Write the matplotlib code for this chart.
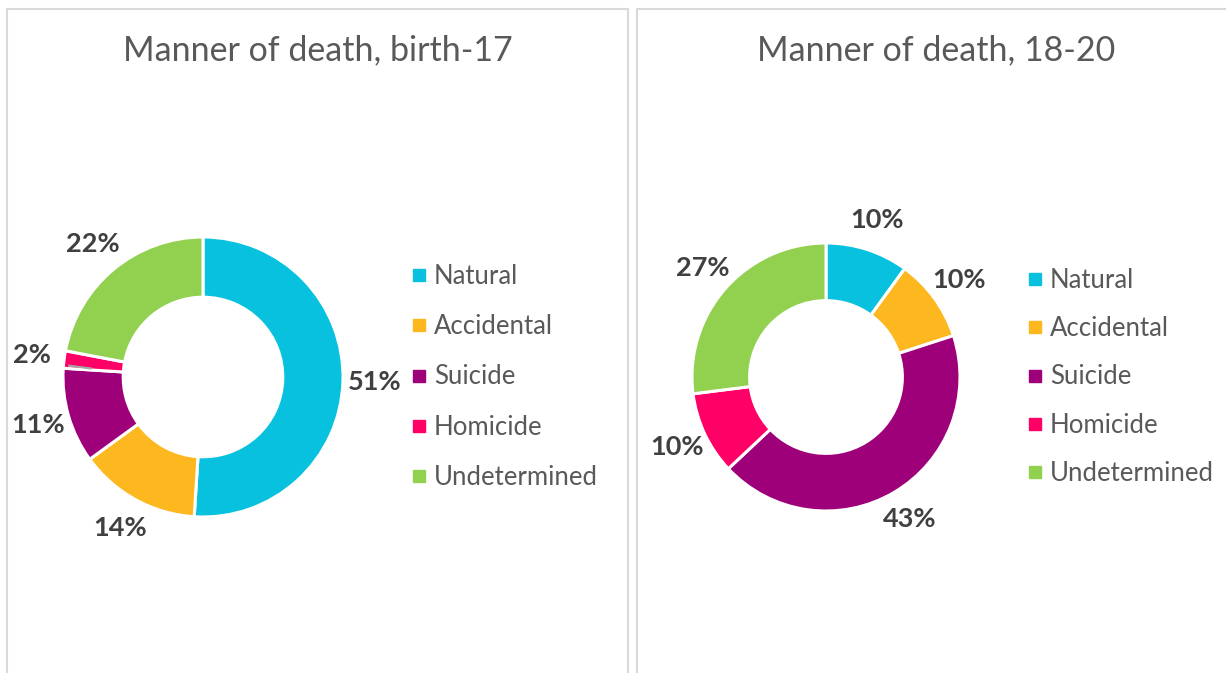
import matplotlib
matplotlib.use("Agg")
import matplotlib.pyplot as plt
from matplotlib.patches import Rectangle
from matplotlib.lines import Line2D
import numpy as np

plt.rcParams['font.family'] = ['Lato', 'DejaVu Sans']

categories = ["Natural", "Accidental", "Suicide", "Homicide", "Undetermined"]
colors = ["#07C1DE", "#FDB71F", "#9E0079", "#FF0066", "#92D050"]
values_left = [51, 14, 11, 2, 22]
values_right = [10, 10, 43, 10, 27]
title_left = "Manner of death, birth-17"
title_right = "Manner of death, 18-20"

W, H = 1226, 673
fig = plt.figure(figsize=(W / 100, H / 100), dpi=100)
fig.patch.set_facecolor("white")

def fx(x):
    return x / W

def fy(y):
    return 1 - y / H

# panel borders
for x0, x1 in [(7, 628), (637, 1240)]:
    fig.add_artist(Rectangle((fx(x0), fy(690)), fx(x1 - x0), (690 - 9) / H,
                             transform=fig.transFigure, fill=False,
                             edgecolor="#D9D9D9", linewidth=1.5))

def donut(cx, cy, R, values, title, tx, leg_x, leg_spacing, leader=False):
    half = 220
    ax = fig.add_axes([fx(cx - half), fy(cy + half), 2 * half / W, 2 * half / H])
    lim = half / R
    wedges, texts, autotexts = ax.pie(
        values, colors=colors, startangle=90, counterclock=False, radius=1,
        wedgeprops=dict(width=0.43, edgecolor="white", linewidth=2.2),
        autopct=lambda p: f"{p:.0f}%", pctdistance=1.23,
        textprops=dict(fontsize=19.5, fontweight="bold", color="#404040"))
    ax.set_xlim(-lim, lim)
    ax.set_ylim(-lim, lim)
    ax.set_aspect("equal")
    ax.axis("off")
    if leader:
        w = wedges[3]
        ang = np.deg2rad((w.theta1 + w.theta2) / 2)
        ax.plot([0.8 * np.cos(ang), 0.97 * np.cos(ang)],
                [0.8 * np.sin(ang) - 0.04, 0.97 * np.sin(ang) - 0.04],
                color="#A6A6A6", lw=1.5, solid_capstyle="butt")
    fig.text(fx(tx), fy(50), title, ha="center", va="center",
             fontsize=24.5, color="#595959")
    handles = [Line2D([], [], marker="s", linestyle="none", markersize=8,
                      markerfacecolor=c, markeredgecolor=c) for c in colors]
    fig.legend(handles, categories, loc="center left",
               bbox_to_anchor=(fx(leg_x), fy(cy)), frameon=False,
               fontsize=18.5, labelcolor="#595959", handlelength=0.5,
               handletextpad=0.32, borderpad=0, borderaxespad=0,
               labelspacing=leg_spacing)
    return ax

donut(203, 377, 140, values_left, title_left, 318, 413, 0.98, leader=True)
donut(826, 377, 134, values_right, title_right, 936, 1029, 0.9)

fig.savefig("out.png", dpi=100, facecolor="white")
